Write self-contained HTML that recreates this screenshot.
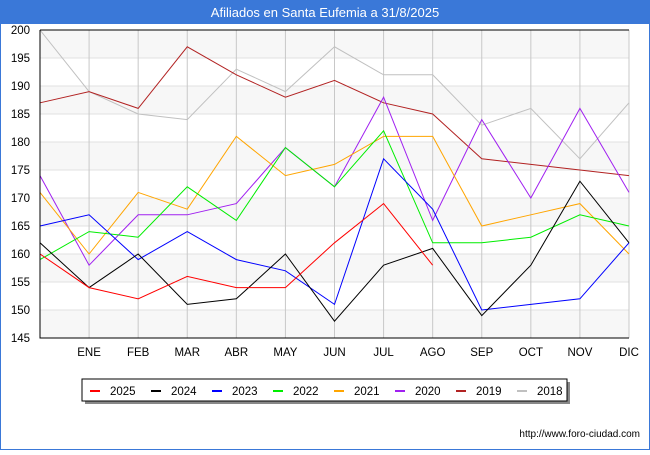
<!DOCTYPE html>
<html><head><meta charset="utf-8"><style>
body{margin:0;width:650px;height:450px;overflow:hidden;font-family:"Liberation Sans","DejaVu Sans",sans-serif;}
</style></head><body>
<svg id="c" width="650" height="450" xmlns="http://www.w3.org/2000/svg">
<rect x="0" y="0" width="650" height="450" fill="#fff" stroke="#3a78d8" stroke-width="2"/>
<rect x="0" y="0" width="650" height="24" fill="#3a78d8"/>
<text x="325" y="17" text-anchor="middle" fill="#fff" font-size="13">Afiliados en Santa Eufemia a 31/8/2025</text>
<g id="bands"></g><g id="grid"></g><g id="lines"></g><g id="axes"></g>
<g>
<rect x="85" y="382" width="485" height="22" fill="#888"/>
<rect x="82" y="379" width="485" height="22" fill="#fff" stroke="#000" stroke-width="1"/>
<g id="leg"></g>
</g>
<text x="640" y="437" text-anchor="end" font-size="10" fill="#000">http://www.foro-ciudad.com</text>
</svg>
<script>
const months=["","ENE","FEB","MAR","ABR","MAY","JUN","JUL","AGO","SEP","OCT","NOV","DIC"];
const yTicks=[145,150,155,160,165,170,175,180,185,190,195,200];
const s2025=[160,154,152,156,154,154,162,169,158];
const s2024=[162,154,160,151,152,160,148,158,161,149,158,173,162];
const s2023=[165,167,159,164,159,157,151,177,168,150,151,152,162];
const s2022=[159,164,163,172,166,179,172,182,162,162,163,167,165];
const s2021=[171,160,171,168,181,174,176,181,181,165,167,169,160];
const s2020=[174,158,167,167,169,179,172,188,166,184,170,186,171];
const s2019=[187,189,186,197,192,188,191,187,185,177,176,175,174];
const s2018=[200,189,185,184,193,189,197,192,192,183,186,177,187];
const series=[["2025",s2025,"#ff0000"],["2024",s2024,"#000000"],["2023",s2023,"#0000ff"],["2022",s2022,"#00ee00"],["2021",s2021,"#ffa500"],["2020",s2020,"#a020f0"],["2019",s2019,"#b22222"],["2018",s2018,"#c0c0c0"]];
const L=40,R=629,T=30,B=338,ymin=145,ymax=200;
const x=i=>L+(R-L)*i/12, y=v=>B-(v-ymin)*(B-T)/(ymax-ymin);
const NS="http://www.w3.org/2000/svg";
function mk(p,t,a){const e=document.createElementNS(NS,t);for(const k in a)e.setAttribute(k,a[k]);document.getElementById(p).appendChild(e);return e;}
for(let i=0;i<yTicks.length-1;i++){const b=mk("bands","rect",{x:L,y:y(yTicks[i+1]),width:R-L,height:y(yTicks[i])-y(yTicks[i+1]),fill:(i%2==0)?"#f7f7f7":"#ffffff"});

}
yTicks.forEach(v=>{const g=mk("grid","line",{x1:L,x2:R,y1:y(v),y2:y(v),stroke:"#e0e0e0"});


const t=mk("axes","text",{x:L-10,y:y(v)+4,"text-anchor":"end","font-size":"11.5",fill:"#000"});t.textContent=v;

});
months.forEach((m,i)=>{if(i>0){const g=mk("grid","line",{x1:x(i),x2:x(i),y1:T,y2:B,stroke:"#c8c8c8"});

}
const t=mk("axes","text",{x:x(i),y:B+18,"text-anchor":"middle","font-size":"11.5",fill:"#000"});t.textContent=m;

});
const ax=mk("axes","path",{d:`M${L},${T}H${R}M${L},${T}V${B}H${R}`,stroke:"#000",fill:"none"});


series.slice().reverse().forEach(([n,d,c])=>{const p=mk("lines","polyline",{points:d.map((v,i)=>x(i)+","+y(v)).join(" "),fill:"none",stroke:c,"stroke-width":"1"});

});
series.forEach(([n,d,c],i)=>{const lx=90+i*61;
const l=mk("leg","line",{x1:lx,x2:lx+10,y1:391,y2:391,stroke:c,"stroke-width":"2"});


const t=mk("leg","text",{x:lx+20,y:395,"font-size":"11.5",fill:"#000"});t.textContent=n;

});
</script>
</body></html>
